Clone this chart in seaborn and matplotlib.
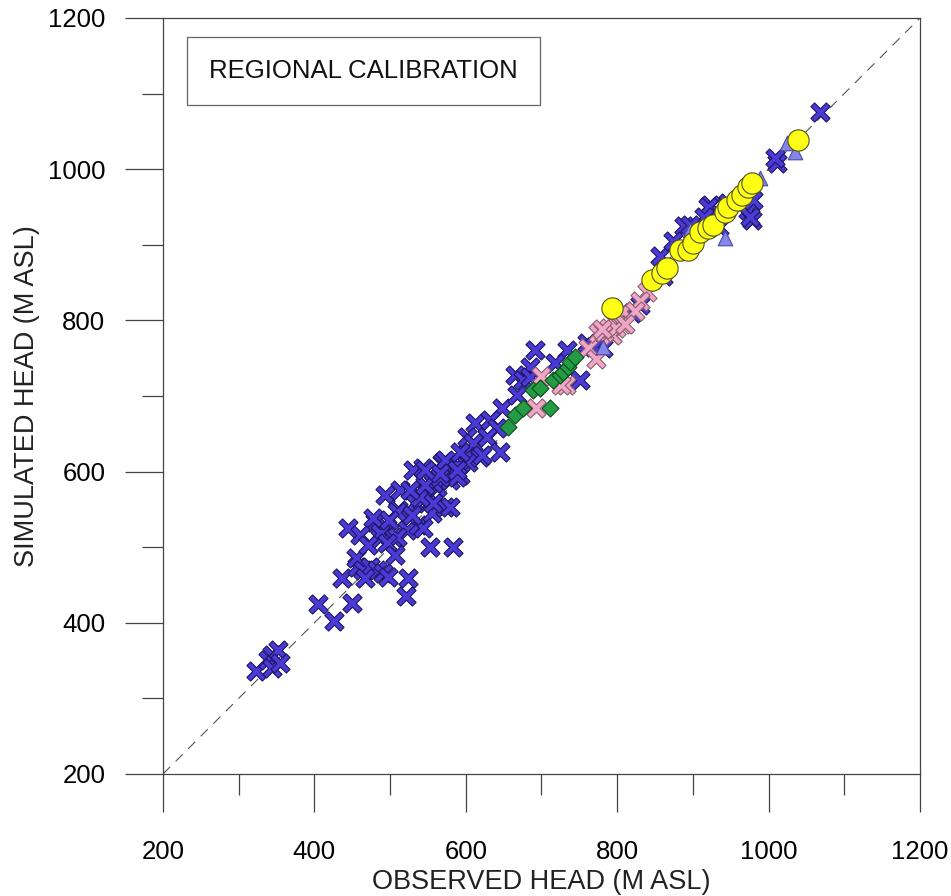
import matplotlib
matplotlib.use("Agg")
import matplotlib.pyplot as plt
from matplotlib.ticker import MultipleLocator
from matplotlib.path import Path
import numpy as np
import seaborn as sns
import pandas as pd

# Observed vs simulated heads (m ASL), grouped by well set
regional_obs = [323, 339, 344, 352, 344, 355, 405, 426, 450, 444, 436, 456, 455, 464, 473,
                483, 491, 497, 467, 524, 521, 493, 513, 530, 543, 569, 588, 602, 510, 533,
                549, 562, 579, 592, 480, 496, 487, 504, 522, 537, 555, 573, 553, 583, 542,
                557, 477, 487, 509, 540, 557, 579, 543, 509, 496, 603, 619, 588, 566, 570,
                460, 471, 506, 499, 529, 546, 526, 691, 665, 685, 734, 718, 751, 781, 760,
                676, 648, 668, 685, 612, 632, 641, 628, 602, 610, 592, 621, 645, 573, 566,
                588, 546, 1068, 1011, 1008, 923, 973, 978, 920, 975, 979, 946, 934, 901,
                888, 915, 860, 856, 874, 896, 820, 830, 770, 792]
regional_sim = [336, 351, 357, 364, 340, 347, 425, 402, 426, 525, 459, 474, 486, 470, 474,
                470, 466, 461, 459, 459, 435, 569, 576, 602, 605, 611, 609, 625, 549, 558,
                572, 580, 589, 596, 533, 525, 512, 513, 523, 529, 545, 553, 500, 500, 562,
                558, 539, 519, 547, 566, 585, 553, 525, 513, 506, 613, 619, 593, 593, 613,
                516, 503, 490, 536, 543, 582, 576, 761, 728, 738, 761, 744, 721, 763, 770,
                721, 684, 701, 725, 664, 668, 658, 646, 646, 638, 626, 622, 626, 615, 598,
                602, 602, 1076, 1008, 1015, 953, 946, 933, 950, 937, 959, 955, 924, 910,
                925, 937, 858, 885, 905, 926, 810, 820, 765, 782]

local_obs = [700, 762, 775, 789, 796, 803, 808, 732, 806, 793, 693, 726, 772, 783, 799,
             839, 830, 823, 810, 780]
local_sim = [726, 763, 783, 790, 799, 806, 813, 714, 795, 781, 684, 714, 749, 785, 790,
             838, 825, 813, 795, 788]

valley_obs = [656, 665, 676, 689, 698, 711, 715, 724, 728, 735, 738, 744]
valley_sim = [659, 675, 684, 708, 711, 684, 721, 728, 732, 738, 745, 752]

upland_obs = [793, 846, 859, 866, 883, 894, 900, 909, 920, 927, 942, 946, 958, 965, 973,
              978, 1039]
upland_sim = [816, 853, 863, 869, 893, 893, 902, 917, 922, 926, 943, 950, 959, 966, 976,
              982, 1039]

spring_obs = [896, 942, 989, 1024, 1035, 781, 870, 960]
spring_sim = [920, 909, 988, 1035, 1023, 765, 875, 955]


def slim_cross(w=0.12, arm=0.5):
    """Filled diagonal cross with narrow arms."""
    pts = np.array([(w, w), (w, arm), (-w, arm), (-w, w), (-arm, w), (-arm, -w),
                    (-w, -w), (-w, -arm), (w, -arm), (w, -w), (arm, -w), (arm, w)])
    c = s = np.sqrt(0.5)
    rot = pts @ np.array([[c, s], [-s, c]])
    verts = np.vstack([rot, rot[:1]])
    codes = [Path.MOVETO] + [Path.LINETO] * 11 + [Path.CLOSEPOLY]
    return Path(verts, codes)


cross = slim_cross()

sns.set_style("white")
plt.rcParams["font.family"] = ["Liberation Sans", "DejaVu Sans"]

fig = plt.figure(figsize=(9.51, 8.96), dpi=100)
ax = fig.add_axes([0.1714, 0.1362, 0.796, 0.8438])

# 1:1 reference line
ax.plot([200, 1200], [200, 1200], color="#555555", lw=0.8, ls=(0, (9, 7)), zorder=1)

groups = [
    (regional_obs, regional_sim, cross, "#4a3ad6", "#1e1660", 190),
    (local_obs, local_sim, cross, "#f0a6c6", "#8a6070", 190),
    (valley_obs, valley_sim, "D", "#249c45", "#0f4a1e", 75),
    (spring_obs, spring_sim, "^", "#8585ea", "#4a4aa0", 110),
    (upland_obs, upland_sim, "o", "#ffff14", "#505020", 235),
]
for i, (xo, ys, mk, fc, ec, sz) in enumerate(groups):
    df = pd.DataFrame({"obs": xo, "sim": ys})
    sns.scatterplot(data=df, x="obs", y="sim", marker=mk, color=fc, edgecolor=ec,
                    linewidth=0.8, s=sz, ax=ax, zorder=3 + i)

ax.set_xlim(200, 1200)
ax.set_ylim(200, 1200)
ax.xaxis.set_major_locator(MultipleLocator(200))
ax.yaxis.set_major_locator(MultipleLocator(200))
ax.xaxis.set_minor_locator(MultipleLocator(100))
ax.yaxis.set_minor_locator(MultipleLocator(100))
ax.tick_params(which="major", direction="out", length=27.5, width=0.9, color="#444444",
               labelsize=18.5, labelcolor="black")
ax.tick_params(which="minor", direction="out", length=15, width=0.9, color="#444444")
ax.tick_params(axis="x", which="major", pad=20)
ax.tick_params(axis="y", which="major", pad=14)
ax.tick_params(bottom=True, left=True, top=False, right=False, which="both")
for sp in ax.spines.values():
    sp.set_color("#444444")
    sp.set_linewidth(0.9)

ax.set_xlabel("OBSERVED HEAD (M ASL)", fontsize=19.5, labelpad=4, color="#222222")
ax.set_ylabel("SIMULATED HEAD (M ASL)", fontsize=19.5, labelpad=6, color="#222222")

ax.text(465, 1130, "REGIONAL CALIBRATION", fontsize=18.5, ha="center", va="center",
        color="#111111",
        bbox=dict(boxstyle="square,pad=0.85", fc="white", ec="#666666", lw=0.9))

fig.savefig("out.png", dpi=100)
